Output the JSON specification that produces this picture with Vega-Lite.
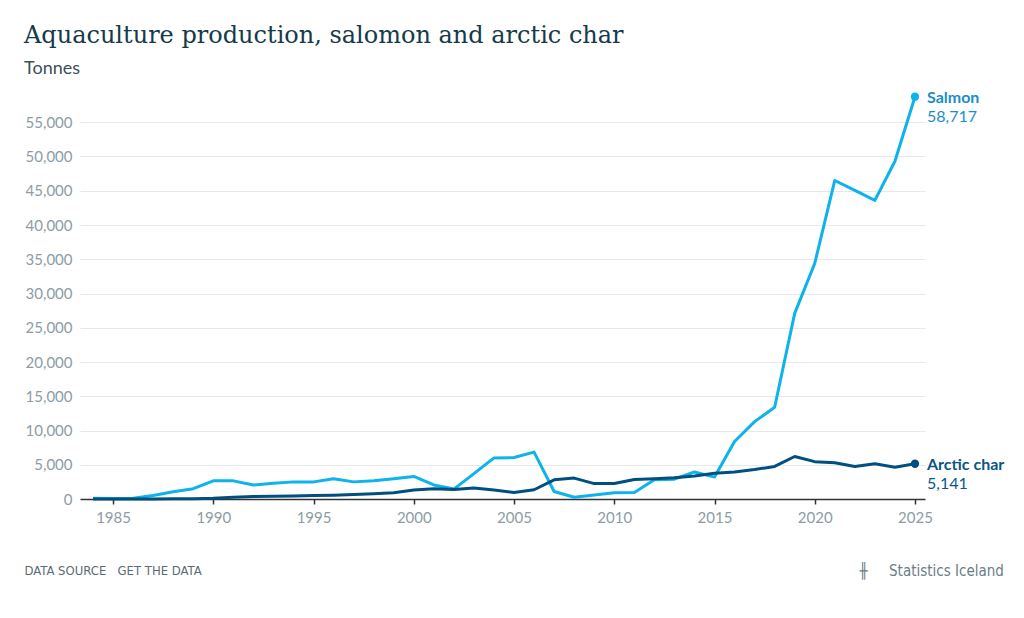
{
  "$schema": "https://vega.github.io/schema/vega-lite/v6.json",
  "autosize": "none",
  "width": 845,
  "height": 411,
  "padding": {"left": 80, "top": 88, "right": 99, "bottom": 119},
  "background": "#ffffff",
  "title": {
    "text": "Aquaculture production, salomon and arctic char",
    "subtitle": "Tonnes",
    "anchor": "start",
    "frame": "group",
    "dx": -56,
    "offset": 10,
    "font": "DejaVu Serif",
    "fontSize": 24,
    "fontWeight": "normal",
    "color": "#163a4a",
    "subtitleFont": "Lato",
    "subtitleFontSize": 18,
    "subtitleColor": "#3d4f58",
    "subtitlePadding": 12
  },
  "data": {
    "values": [
      {"year": 1984, "series": "Salmon", "value": 100},
      {"year": 1985, "series": "Salmon", "value": 80},
      {"year": 1986, "series": "Salmon", "value": 100},
      {"year": 1987, "series": "Salmon", "value": 500},
      {"year": 1988, "series": "Salmon", "value": 1050},
      {"year": 1989, "series": "Salmon", "value": 1500},
      {"year": 1990, "series": "Salmon", "value": 2650},
      {"year": 1991, "series": "Salmon", "value": 2650},
      {"year": 1992, "series": "Salmon", "value": 2050},
      {"year": 1993, "series": "Salmon", "value": 2300},
      {"year": 1994, "series": "Salmon", "value": 2500},
      {"year": 1995, "series": "Salmon", "value": 2500},
      {"year": 1996, "series": "Salmon", "value": 2950},
      {"year": 1997, "series": "Salmon", "value": 2500},
      {"year": 1998, "series": "Salmon", "value": 2650},
      {"year": 1999, "series": "Salmon", "value": 2950},
      {"year": 2000, "series": "Salmon", "value": 3300},
      {"year": 2001, "series": "Salmon", "value": 2050},
      {"year": 2002, "series": "Salmon", "value": 1450},
      {"year": 2003, "series": "Salmon", "value": 3700},
      {"year": 2004, "series": "Salmon", "value": 6000},
      {"year": 2005, "series": "Salmon", "value": 6050},
      {"year": 2006, "series": "Salmon", "value": 6850},
      {"year": 2007, "series": "Salmon", "value": 1100},
      {"year": 2008, "series": "Salmon", "value": 250},
      {"year": 2009, "series": "Salmon", "value": 600},
      {"year": 2010, "series": "Salmon", "value": 900},
      {"year": 2011, "series": "Salmon", "value": 950},
      {"year": 2012, "series": "Salmon", "value": 2800},
      {"year": 2013, "series": "Salmon", "value": 2900},
      {"year": 2014, "series": "Salmon", "value": 3950},
      {"year": 2015, "series": "Salmon", "value": 3200},
      {"year": 2016, "series": "Salmon", "value": 8400},
      {"year": 2017, "series": "Salmon", "value": 11300},
      {"year": 2018, "series": "Salmon", "value": 13400},
      {"year": 2019, "series": "Salmon", "value": 27100},
      {"year": 2020, "series": "Salmon", "value": 34400},
      {"year": 2021, "series": "Salmon", "value": 46500},
      {"year": 2022, "series": "Salmon", "value": 45050},
      {"year": 2023, "series": "Salmon", "value": 43600},
      {"year": 2024, "series": "Salmon", "value": 49300},
      {"year": 2025, "series": "Salmon", "value": 58717},
      {"year": 1984, "series": "Arctic char", "value": 0},
      {"year": 1985, "series": "Arctic char", "value": 0},
      {"year": 1986, "series": "Arctic char", "value": 0},
      {"year": 1987, "series": "Arctic char", "value": 10},
      {"year": 1988, "series": "Arctic char", "value": 20},
      {"year": 1989, "series": "Arctic char", "value": 40},
      {"year": 1990, "series": "Arctic char", "value": 100},
      {"year": 1991, "series": "Arctic char", "value": 250},
      {"year": 1992, "series": "Arctic char", "value": 350},
      {"year": 1993, "series": "Arctic char", "value": 400},
      {"year": 1994, "series": "Arctic char", "value": 450},
      {"year": 1995, "series": "Arctic char", "value": 500},
      {"year": 1996, "series": "Arctic char", "value": 550},
      {"year": 1997, "series": "Arctic char", "value": 650},
      {"year": 1998, "series": "Arctic char", "value": 750},
      {"year": 1999, "series": "Arctic char", "value": 900},
      {"year": 2000, "series": "Arctic char", "value": 1300},
      {"year": 2001, "series": "Arctic char", "value": 1500},
      {"year": 2002, "series": "Arctic char", "value": 1400},
      {"year": 2003, "series": "Arctic char", "value": 1600},
      {"year": 2004, "series": "Arctic char", "value": 1300},
      {"year": 2005, "series": "Arctic char", "value": 950},
      {"year": 2006, "series": "Arctic char", "value": 1350},
      {"year": 2007, "series": "Arctic char", "value": 2800},
      {"year": 2008, "series": "Arctic char", "value": 3050},
      {"year": 2009, "series": "Arctic char", "value": 2250},
      {"year": 2010, "series": "Arctic char", "value": 2250},
      {"year": 2011, "series": "Arctic char", "value": 2850},
      {"year": 2012, "series": "Arctic char", "value": 2950},
      {"year": 2013, "series": "Arctic char", "value": 3100},
      {"year": 2014, "series": "Arctic char", "value": 3350},
      {"year": 2015, "series": "Arctic char", "value": 3750},
      {"year": 2016, "series": "Arctic char", "value": 3950},
      {"year": 2017, "series": "Arctic char", "value": 4300},
      {"year": 2018, "series": "Arctic char", "value": 4750},
      {"year": 2019, "series": "Arctic char", "value": 6200},
      {"year": 2020, "series": "Arctic char", "value": 5450},
      {"year": 2021, "series": "Arctic char", "value": 5300},
      {"year": 2022, "series": "Arctic char", "value": 4750},
      {"year": 2023, "series": "Arctic char", "value": 5150},
      {"year": 2024, "series": "Arctic char", "value": 4650},
      {"year": 2025, "series": "Arctic char", "value": 5141}
    ]
  },
  "encoding": {
    "x": {
      "field": "year",
      "type": "quantitative",
      "scale": {"domain": [1983.35, 2025.5], "nice": false, "zero": false},
      "axis": {
        "values": [1985, 1990, 1995, 2000, 2005, 2010, 2015, 2020, 2025],
        "format": "d",
        "grid": false,
        "labelFont": "Lato",
        "labelFontSize": 15,
        "labelColor": "#8d9ca4",
        "labelPadding": 6,
        "tickColor": "#333333",
        "tickSize": 5,
        "tickWidth": 1.5,
        "domainColor": "#333333",
        "domainWidth": 1.5,
        "title": "DATA SOURCE\u00a0\u00a0\u00a0GET THE DATA",
        "titleX": -56,
        "titleY": 71,
        "titleAnchor": "start",
        "titleAlign": "left",
        "titleBaseline": "middle",
        "titleFont": "Liberation Sans Narrow, DejaVu Sans Condensed, Roboto",
        "titleFontSize": 13,
        "titleFontWeight": "normal",
        "titleColor": "#5c6b73"
      }
    },
    "y": {
      "field": "value",
      "type": "quantitative",
      "scale": {"domain": [0, 60000], "nice": false},
      "axis": {
        "values": [0, 5000, 10000, 15000, 20000, 25000, 30000, 35000, 40000, 45000, 50000, 55000],
        "format": ",d",
        "domain": false,
        "ticks": false,
        "gridColor": "#e8e8e8",
        "gridWidth": 1,
        "labelFont": "Lato",
        "labelFontSize": 15,
        "labelColor": "#8d9ca4",
        "labelPadding": 8,
        "title": "╫\u00a0\u00a0\u00a0\u00a0\u00a0Statistics Iceland",
        "titleAngle": 0,
        "titleX": 779,
        "titleY": 482,
        "titleAlign": "left",
        "titleBaseline": "middle",
        "titleFont": "Liberation Sans Narrow, DejaVu Sans Condensed, Roboto",
        "titleFontSize": 15,
        "titleFontWeight": "normal",
        "titleColor": "#6b7d86"
      }
    }
  },
  "layer": [
    {
      "mark": {"type": "line", "strokeWidth": 3, "strokeJoin": "round"},
      "encoding": {
        "color": {
          "field": "series",
          "type": "nominal",
          "scale": {"domain": ["Salmon", "Arctic char"], "range": ["#0db3ea", "#00507f"]},
          "legend": null
        }
      }
    },
    {
      "transform": [{"filter": "datum.year == 2025"}],
      "mark": {"type": "circle", "size": 70, "opacity": 1},
      "encoding": {
        "color": {
          "field": "series",
          "type": "nominal",
          "scale": {"domain": ["Salmon", "Arctic char"], "range": ["#0db3ea", "#00507f"]},
          "legend": null
        }
      }
    },
    {
      "transform": [{"filter": "datum.year == 2025"}],
      "mark": {"type": "text", "align": "left", "baseline": "middle", "dx": 12, "dy": 1, "font": "Lato", "fontSize": 16, "fontWeight": "bold"},
      "encoding": {
        "text": {"field": "series"},
        "color": {
          "field": "series",
          "type": "nominal",
          "scale": {"domain": ["Salmon", "Arctic char"], "range": ["#1a8ec8", "#0b5687"]},
          "legend": null
        }
      }
    },
    {
      "transform": [{"filter": "datum.year == 2025"}],
      "mark": {"type": "text", "align": "left", "baseline": "middle", "dx": 12, "dy": 20, "font": "Lato", "fontSize": 16},
      "encoding": {
        "text": {"field": "value", "format": ",d"},
        "color": {
          "field": "series",
          "type": "nominal",
          "scale": {"domain": ["Salmon", "Arctic char"], "range": ["#1a8ec8", "#0b5687"]},
          "legend": null
        }
      }
    }
  ],
  "resolve": {"scale": {"color": "independent"}},
  "config": {
    "view": {"stroke": null}
  }
}
